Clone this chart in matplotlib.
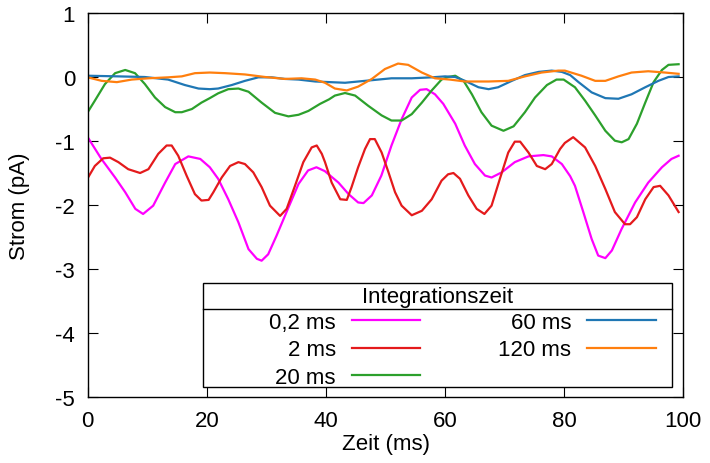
import numpy as np
import matplotlib.pyplot as plt
from matplotlib.patches import Rectangle

plt.rcParams['font.family'] = ['Liberation Sans', 'DejaVu Sans']
plt.rcParams['axes.unicode_minus'] = False

# Zeitpunkte (ms) und Strom (pA) fuer jede Integrationszeit
t_02 = [0, 2.3, 4.6, 6.3, 8.0, 9.3, 11.0, 13.0, 14.7, 16.9, 18.9, 20.5, 21.9, 23.6, 25.3, 27.0,
        28.4, 29.2, 30.3, 31.7, 33.7, 35.4, 37.0, 38.4, 39.8, 42.1, 43.8, 45.4, 46.3, 47.7, 49.3,
        51.0, 52.7, 54.4, 55.8, 56.9, 58.3, 59.7, 61.7, 63.3, 65.0, 66.7, 67.8, 69.5, 71.7, 74.0,
        76.5, 77.9, 79.6, 81.0, 81.8, 83.2, 84.6, 85.7, 86.9, 88.0, 89.6, 91.9, 94.1, 96.4, 98.0, 99.2]
i_02 = [-0.94, -1.28, -1.57, -1.80, -2.06, -2.14, -2.01, -1.65, -1.36, -1.24, -1.28, -1.41, -1.59,
        -1.91, -2.27, -2.69, -2.84, -2.87, -2.77, -2.48, -2.04, -1.67, -1.46, -1.41, -1.47, -1.65,
        -1.83, -1.96, -1.97, -1.85, -1.54, -1.07, -0.66, -0.32, -0.20, -0.19, -0.27, -0.42, -0.73,
        -1.07, -1.36, -1.54, -1.57, -1.49, -1.33, -1.24, -1.22, -1.24, -1.36, -1.55, -1.70, -2.11,
        -2.53, -2.79, -2.83, -2.71, -2.38, -1.96, -1.65, -1.41, -1.28, -1.23]

t_2 = [0, 1.2, 2.6, 3.75, 5.15, 6.8, 8.8, 10.2, 11.85, 13.25, 14.1, 15.2, 16.6, 18.0, 19.1, 20.3,
       21.1, 22.5, 23.9, 25.3, 26.4, 27.8, 29.2, 30.6, 32.3, 33.4, 34.8, 36.2, 37.6, 38.45, 39.3,
       39.84, 40.96, 42.4, 43.5, 44.3, 45.4, 46.55, 47.4, 48.2, 49.35, 50.5, 51.6, 52.7, 54.4,
       56.1, 57.75, 59.4, 60.5, 61.4, 62.5, 63.9, 65.3, 66.6, 67.8, 69.2, 70.6, 71.7, 72.6, 74.0,
       75.4, 76.8, 77.9, 79.3, 80.1, 81.5, 83.5, 85.2, 86.9, 88.5, 90.2, 91.05, 92.2, 93.6, 95.0,
       96.1, 97.5, 99.2]
i_2 = [-1.58, -1.39, -1.27, -1.26, -1.33, -1.44, -1.50, -1.44, -1.20, -1.07, -1.07, -1.23, -1.54,
       -1.83, -1.93, -1.92, -1.80, -1.57, -1.39, -1.33, -1.36, -1.49, -1.72, -2.01, -2.17, -2.06,
       -1.70, -1.33, -1.10, -1.07, -1.20, -1.33, -1.65, -1.91, -1.92, -1.72, -1.41, -1.125, -0.97,
       -0.97, -1.18, -1.49, -1.80, -2.01, -2.16, -2.09, -1.91, -1.62, -1.52, -1.50, -1.59, -1.85,
       -2.06, -2.14, -2.01, -1.59, -1.18, -1.01, -1.01, -1.18, -1.39, -1.44, -1.36, -1.125, -1.03,
       -0.94, -1.10, -1.39, -1.75, -2.11, -2.30, -2.30, -2.19, -1.91, -1.72, -1.70, -1.85, -2.11]

t_20 = [0, 1.2, 2.9, 4.6, 6.3, 7.95, 9.6, 11.3, 13.0, 14.7, 15.8, 17.5, 19.1, 20.5, 21.9, 23.6,
        25.3, 27.0, 29.2, 31.45, 33.7, 35.4, 37.05, 39.0, 40.5, 41.5, 43.2, 44.9, 47.1, 49.35,
        51.0, 52.7, 54.4, 56.1, 57.75, 59.4, 60.5, 61.7, 63.1, 64.5, 66.1, 67.8, 69.8, 71.5, 73.4,
        75.1, 77.1, 78.7, 79.9, 81.8, 83.5, 85.2, 86.9, 88.5, 89.65, 90.8, 92.2, 93.6, 95.0, 96.4,
        97.5, 99.2]
i_20 = [-0.55, -0.37, -0.11, 0.06, 0.11, 0.06, -0.11, -0.32, -0.47, -0.55, -0.55, -0.50, -0.40,
        -0.33, -0.255, -0.19, -0.18, -0.23, -0.40, -0.56, -0.615, -0.59, -0.53, -0.42, -0.35,
        -0.29, -0.25, -0.29, -0.45, -0.60, -0.68, -0.68, -0.58, -0.40, -0.21, -0.04, 0.0, 0.02,
        -0.06, -0.27, -0.55, -0.76, -0.84, -0.77, -0.55, -0.32, -0.125, -0.04, -0.04, -0.16, -0.37,
        -0.60, -0.84, -0.995, -1.02, -0.97, -0.73, -0.40, -0.08, 0.11, 0.19, 0.20]

t_60 = [0, 5.15, 9.6, 13.5, 16.3, 18.6, 20.5, 21.9, 24.2, 26.4, 28.65, 30.9, 33.1, 35.4, 38.2,
        40.7, 43.2, 46.55, 51.0, 54.4, 57.75, 60.0, 61.7, 63.35, 65.6, 67.3, 68.9, 71.2, 73.4,
        75.7, 77.9, 79.6, 81.0, 82.4, 84.6, 86.9, 89.1, 91.3, 93.6, 95.8, 97.5, 99.2]
i_60 = [0.02, 0.01, 0.0, -0.04, -0.125, -0.18, -0.19, -0.18, -0.125, -0.06, -0.005, -0.005, -0.03,
        -0.04, -0.07, -0.08, -0.09, -0.06, -0.02, -0.02, -0.005, 0.01, 0.0, -0.06, -0.16, -0.19,
        -0.16, -0.06, 0.03, 0.08, 0.10, 0.08, 0.03, -0.08, -0.24, -0.33, -0.34, -0.27, -0.16,
        -0.06, 0.0, 0.01]

t_120 = [0, 2.35, 4.9, 7.4, 10.2, 13.5, 15.8, 18.0, 20.5, 23.1, 26.4, 29.8, 33.1, 35.9, 38.2,
         39.84, 41.5, 43.5, 45.4, 47.7, 49.9, 52.1, 53.8, 56.1, 58.3, 60.8, 63.35, 67.3, 70.6,
         73.4, 76.2, 79.0, 80.1, 82.9, 85.2, 86.9, 89.1, 91.3, 94.1, 96.9, 99.2]
i_120 = [-0.005, -0.06, -0.08, -0.04, -0.02, -0.005, 0.01, 0.06, 0.07, 0.06, 0.04, 0.0, -0.03,
         -0.02, -0.04, -0.09, -0.18, -0.21, -0.15, -0.03, 0.125, 0.21, 0.19, 0.07, -0.02, -0.04,
         -0.07, -0.07, -0.06, 0.01, 0.07, 0.10, 0.10, 0.02, -0.06, -0.06, 0.01, 0.07, 0.09, 0.07,
         0.05]

kurven = [('0,2 ms', t_02, i_02, '#ff00ff'),
          ('2 ms', t_2, i_2, '#e41a1c'),
          ('20 ms', t_20, i_20, '#2ca02c'),
          ('60 ms', t_60, i_60, '#1f77b4'),
          ('120 ms', t_120, i_120, '#ff7f0e')]

fig = plt.figure(figsize=(7.1, 4.64), dpi=100)
ax = fig.add_axes([0.1235, 0.1422, 0.839, 0.8276])

for name, t, i, farbe in kurven:
    ax.plot(t, i, color=farbe, linewidth=1.6, label=name, solid_joinstyle='round')

ax.set_xlim(0, 100)
ax.set_ylim(-5, 1)
ax.set_xticks(np.arange(0, 101, 20))
ax.set_yticks(np.arange(-5, 2, 1))
ax.tick_params(direction='in', length=7.5, width=0.8, top=True, right=True, labelsize=16, pad=9)
for s in ax.spines.values():
    s.set_linewidth(1.0)
ax.set_xlabel('Zeit (ms)', fontsize=16, labelpad=2)
ax.set_ylabel('Strom (pA)', fontsize=16, labelpad=18)

# Legendenkasten mit Titelzeile
ax.add_patch(Rectangle((0.194, 0.026), 0.787, 0.271, transform=ax.transAxes,
                       facecolor='white', edgecolor='black', linewidth=1.0, zorder=4))
ax.plot([0.194, 0.981], [0.229, 0.229], transform=ax.transAxes, color='black', linewidth=1.0, zorder=5)
ax.text(0.5875, 0.263, 'Integrationszeit', transform=ax.transAxes, ha='center', va='center',
        fontsize=16, zorder=5)
leg = ax.legend(ncol=2, markerfirst=False, frameon=False, loc='upper left',
                bbox_to_anchor=(0.305, 0.222), fontsize=16, handlelength=3.1, handletextpad=0.7,
                columnspacing=3.5, labelspacing=0.30, borderpad=0, borderaxespad=0)
leg.set_zorder(6)

fig.savefig('out.png', dpi=100)
